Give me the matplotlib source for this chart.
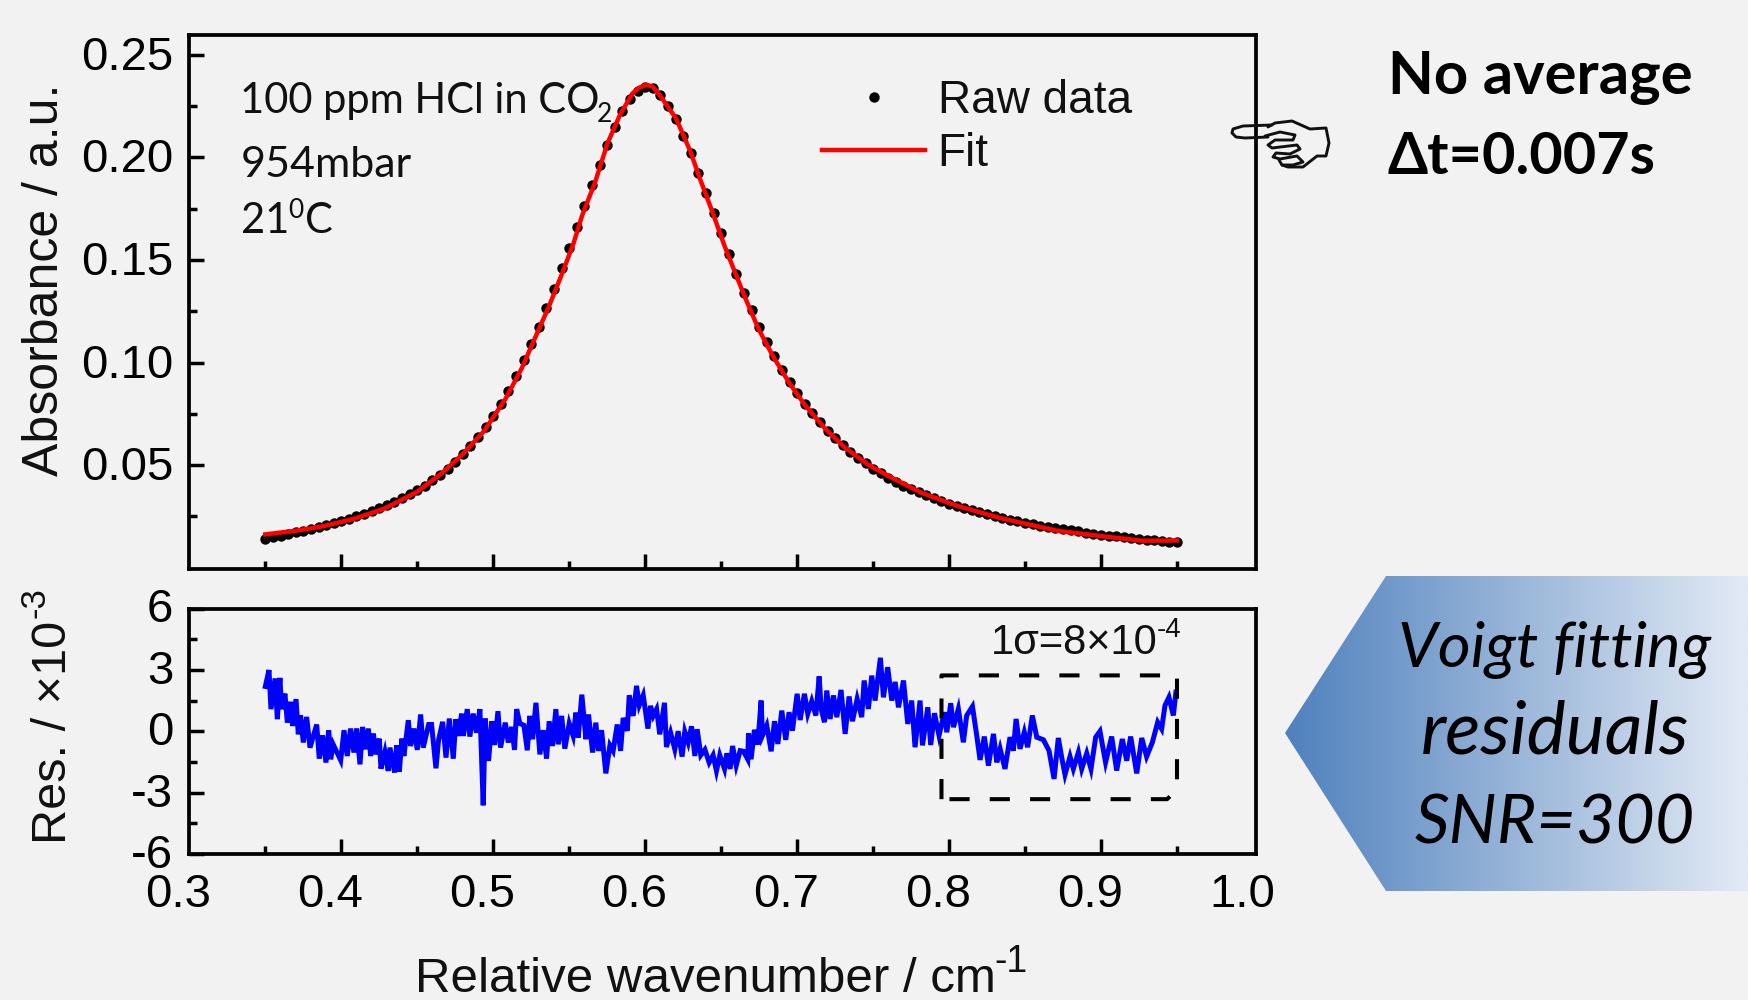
import matplotlib
matplotlib.use("Agg")
import matplotlib.pyplot as plt
from matplotlib.colors import LinearSegmentedColormap
from matplotlib.lines import Line2D
from matplotlib.patches import Polygon
from matplotlib.transforms import ScaledTranslation
import numpy as np

W, H = 1748, 1000
BG = "#f2f2f2"
ARIAL = "Liberation Sans"
CALIBRI = ["Lato", "DejaVu Sans"]

raw_x = [
    0.350, 0.355, 0.360, 0.365, 0.370, 0.375, 0.380, 0.385, 0.390, 0.395, 0.400,
    0.405, 0.410, 0.415, 0.420, 0.425, 0.430, 0.435, 0.440, 0.445, 0.450,
    0.455, 0.460, 0.465, 0.470, 0.475, 0.480, 0.485, 0.490, 0.495, 0.500,
    0.505, 0.510, 0.515, 0.520, 0.525, 0.530, 0.535, 0.540, 0.545, 0.550,
    0.555, 0.560, 0.565, 0.570, 0.575, 0.580, 0.585, 0.590, 0.595, 0.600,
    0.605, 0.610, 0.615, 0.620, 0.625, 0.630, 0.635, 0.640, 0.645, 0.650,
    0.655, 0.660, 0.665, 0.670, 0.675, 0.680, 0.685, 0.690, 0.695, 0.700,
    0.705, 0.710, 0.715, 0.720, 0.725, 0.730, 0.735, 0.740, 0.745, 0.750,
    0.755, 0.760, 0.765, 0.770, 0.775, 0.780, 0.785, 0.790, 0.795, 0.800,
    0.805, 0.810, 0.815, 0.820, 0.825, 0.830, 0.835, 0.840, 0.845, 0.850,
    0.855, 0.860, 0.865, 0.870, 0.875, 0.880, 0.885, 0.890, 0.895, 0.900,
    0.905, 0.910, 0.915, 0.920, 0.925, 0.930, 0.935, 0.940, 0.945, 0.950,
]
raw_y = [
    0.0140, 0.0148, 0.0156, 0.0164, 0.0172, 0.0180, 0.0189, 0.0198, 0.0208, 0.0218, 0.0228,
    0.0239, 0.0250, 0.0262, 0.0275, 0.0289, 0.0304, 0.0320, 0.0338, 0.0357, 0.0378,
    0.0400, 0.0425, 0.0452, 0.0482, 0.0515, 0.0552, 0.0592, 0.0636, 0.0685, 0.0738,
    0.0797, 0.0862, 0.0933, 0.1010, 0.1090, 0.1175, 0.1265, 0.1360, 0.1460, 0.1560,
    0.1660, 0.1765, 0.1865, 0.1965, 0.2060, 0.2150, 0.2225, 0.2285, 0.2325, 0.2345,
    0.2340, 0.2305, 0.2250, 0.2185, 0.2105, 0.2020, 0.1925, 0.1825, 0.1730, 0.1630,
    0.1530, 0.1430, 0.1340, 0.1255, 0.1175, 0.1100, 0.1030, 0.0965, 0.0905, 0.0850,
    0.0800, 0.0752, 0.0708, 0.0668, 0.0630, 0.0596, 0.0565, 0.0535, 0.0508, 0.0483,
    0.0460, 0.0438, 0.0418, 0.0400, 0.0383, 0.0367, 0.0352, 0.0338, 0.0325, 0.0312,
    0.0300, 0.0289, 0.0279, 0.0269, 0.0259, 0.0250, 0.0241, 0.0233, 0.0226, 0.0219,
    0.0212, 0.0205, 0.0199, 0.0193, 0.0187, 0.0181, 0.0176, 0.0171, 0.0166, 0.0161,
    0.0156, 0.0152, 0.0148, 0.0144, 0.0140, 0.0136, 0.0133, 0.0130, 0.0127, 0.0124,
]

fit_x = [
    0.350, 0.3695, 0.3883, 0.4094, 0.4282, 0.4494, 0.4658, 0.4799, 0.4940, 0.5081,
    0.5187, 0.5269, 0.5363, 0.5457, 0.5528, 0.5586, 0.5669, 0.5751, 0.5833, 0.5915,
    0.5960, 0.6009, 0.6050, 0.6098, 0.6204, 0.6296, 0.6362, 0.6441, 0.6521, 0.6600,
    0.6666, 0.6745, 0.6838, 0.6944, 0.7049, 0.7181, 0.7314, 0.7472, 0.7605, 0.7817,
    0.8054, 0.8345, 0.8715, 0.9006, 0.9270, 0.9500,
]
fit_y = [
    0.0162, 0.0179, 0.0202, 0.0240, 0.0287, 0.0367, 0.0458, 0.0553, 0.0666, 0.0823,
    0.0971, 0.1110, 0.1267, 0.1441, 0.1580, 0.1719, 0.1876, 0.2067, 0.2206, 0.2311,
    0.2340, 0.2354, 0.2345, 0.2302, 0.2189, 0.2032, 0.1893, 0.1737, 0.1571, 0.1423,
    0.1302, 0.1165, 0.1035, 0.0905, 0.0795, 0.0680, 0.0585, 0.0500, 0.0445, 0.0365,
    0.0301, 0.0240, 0.0179, 0.0153, 0.0131, 0.0132,
]

res_x = [
    0.3500, 0.3524, 0.3537, 0.3564, 0.3579, 0.3596, 0.3607, 0.3629, 0.3645, 0.3667,
    0.3680, 0.3702, 0.3717, 0.3732, 0.3750, 0.3772, 0.3794, 0.3838, 0.3855, 0.3877,
    0.3899, 0.3917, 0.3930, 0.3947, 0.3996, 0.4018, 0.4039, 0.4061, 0.4083, 0.4101,
    0.4123, 0.4140, 0.4156, 0.4178, 0.4193, 0.4211, 0.4228, 0.4250, 0.4261, 0.4287,
    0.4309, 0.4320, 0.4351, 0.4364, 0.4382, 0.4399, 0.4412, 0.4441, 0.4456, 0.4478,
    0.4500, 0.4522, 0.4539, 0.4575, 0.4594, 0.4623, 0.4640, 0.4667, 0.4689, 0.4711,
    0.4737, 0.4754, 0.4770, 0.4792, 0.4803, 0.4829, 0.4846, 0.4868, 0.4890, 0.4912,
    0.4934, 0.4947, 0.4969, 0.4991, 0.5009, 0.5031, 0.5048, 0.5079, 0.5099, 0.5121,
    0.5140, 0.5154, 0.5175, 0.5202, 0.5224, 0.5241, 0.5259, 0.5281, 0.5307, 0.5329,
    0.5351, 0.5368, 0.5390, 0.5412, 0.5428, 0.5450, 0.5471, 0.5500, 0.5526, 0.5544,
    0.5559, 0.5583, 0.5610, 0.5627, 0.5654, 0.5675, 0.5693, 0.5713, 0.5741, 0.5768,
    0.5789, 0.5816, 0.5838, 0.5855, 0.5882, 0.5895, 0.5921, 0.5943, 0.5961, 0.5987,
    0.6018, 0.6035, 0.6053, 0.6075, 0.6096, 0.6127, 0.6140, 0.6167, 0.6195, 0.6217,
    0.6243, 0.6261, 0.6283, 0.6305, 0.6327, 0.6342, 0.6366, 0.6393, 0.6421, 0.6447,
    0.6469, 0.6491, 0.6522, 0.6537, 0.6559, 0.6575, 0.6599, 0.6625, 0.6647, 0.6675,
    0.6680, 0.6697, 0.6719, 0.6741, 0.6763, 0.6772, 0.6800, 0.6829, 0.6851, 0.6873,
    0.6899, 0.6925, 0.6947, 0.6969, 0.7000, 0.7020, 0.7048, 0.7070, 0.7096, 0.7123,
    0.7145, 0.7158, 0.7180, 0.7195, 0.7217, 0.7239, 0.7261, 0.7289, 0.7316, 0.7342,
    0.7364, 0.7395, 0.7425, 0.7441, 0.7469, 0.7491, 0.7513, 0.7548, 0.7568, 0.7596,
    0.7623, 0.7645, 0.7667, 0.7700, 0.7728, 0.7754, 0.7776, 0.7809, 0.7825, 0.7860,
    0.7879, 0.7904, 0.7934, 0.7969, 0.7985, 0.8011, 0.8029, 0.8061, 0.8094, 0.8116,
    0.8154, 0.8182, 0.8204, 0.8232, 0.8259, 0.8292, 0.8314, 0.8336, 0.8368, 0.8401,
    0.8423, 0.8441, 0.8467, 0.8495, 0.8517, 0.8548, 0.8577, 0.8621, 0.8658, 0.8691,
    0.8719, 0.8741, 0.8763, 0.8796, 0.8818, 0.8851, 0.8873, 0.8906, 0.8934, 0.8965,
    0.8993, 0.9030, 0.9070, 0.9103, 0.9140, 0.9169, 0.9195, 0.9235, 0.9268, 0.9300,
    0.9338, 0.9373, 0.9399, 0.9421, 0.9447, 0.9476, 0.9493,
]
res_y = [
    2.19, 2.99, 1.08, 2.58, 0.59, 2.61, 1.08, 1.84, 0.42, 1.44,
    0.26, 1.57, -0.15, 0.78, -0.55, 0.70, -0.80, 0.33, -1.34, -0.20,
    -1.53, 0.05, -1.37, -0.65, -1.42, 0.05, -1.21, 0.13, -1.04, 0.13,
    -1.62, 0.21, -0.88, 0.13, -1.21, -0.11, -1.13, -0.36, -1.83, -1.01,
    -1.94, -0.80, -2.02, -0.69, -1.97, -0.36, -1.21, 0.54, -0.72, 0.13,
    -0.91, 0.82, -0.80, 0.33, 0.33, -1.81, -0.44, 0.46, -1.29, 0.62,
    -1.34, 0.59, -0.23, 0.86, -0.23, 1.08, -0.26, 0.86, -0.07, 1.08,
    -3.62, 0.62, -1.45, 0.49, -0.67, 0.98, -0.80, 0.42, -0.55, 0.21,
    -0.91, 1.08, 0.38, 0.29, -0.93, 0.75, -0.39, 1.39, -1.13, 0.05,
    -1.34, 0.49, -0.72, 1.08, -0.64, 0.75, -0.85, 0.38, -0.23, 0.91,
    -0.31, 1.79, -0.39, 0.82, -1.04, 0.42, -0.96, 0.05, -2.06, -0.69,
    -0.96, 0.33, -0.96, 0.65, 0.02, 1.76, 0.75, 2.22, 1.27, 1.76,
    0.13, 1.24, 0.75, 1.08, -0.15, 1.39, -0.77, -0.07, -0.88, 0.00,
    -1.24, -0.03, -0.55, 0.24, -1.21, 0.10, -1.17, -0.90, -1.53, -1.17,
    -1.94, -1.17, -1.84, -1.08, -1.84, -0.72, -1.68, -0.95, -0.98, -1.37,
    -0.10, -1.37, 0.07, -0.65, 1.50, -0.21, 0.28, -0.98, 0.49, -0.62,
    1.01, -0.42, 0.93, 0.03, 1.83, 0.55, 1.83, 0.85, 1.47, 0.77,
    2.68, 1.09, 0.44, 1.99, 0.60, 1.75, 0.69, 2.02, -0.13, 1.70,
    0.49, 1.58, 0.69, 2.48, 1.09, 2.72, 1.50, 3.59, 1.66, 3.13,
    1.50, 2.41, 1.17, 2.48, 0.36, 1.50, -0.78, 1.50, -0.69, 1.17,
    -0.67, 0.88, -0.21, 0.93, -0.05, 1.37, 0.20, 1.09, -0.54, 0.77,
    1.21, -0.21, -1.40, -0.26, -1.68, -0.13, -1.52, -0.86, -1.84, -0.29,
    -0.95, 0.60, -0.86, -0.05, -0.78, 0.77, -0.29, -0.42, -0.95, -2.33,
    -0.33, -1.27, -2.12, -1.24, -1.84, -1.03, -1.84, -1.08, -1.84, -0.29,
    0.00, -1.52, -0.26, -1.92, -0.38, -1.44, -0.26, -2.06, -0.33, -1.24,
    -0.54, 0.44, 0.11, 1.26, 1.66, 0.77, 1.91,
]

box_x = [0.795, 0.795, 0.950, 0.950, 0.9435, 0.795]
box_y = [-3.32, 2.73, 2.73, -2.85, -3.32, -3.32]

abs_ticks = [0.05, 0.10, 0.15, 0.20, 0.25]
abs_labels = ["0.05", "0.10", "0.15", "0.20", "0.25"]
res_ticks = [-6, -3, 0, 3, 6]
res_labels = ["-6", "-3", "0", "3", "6"]
x_ticks = [0.3, 0.4, 0.5, 0.6, 0.7, 0.8, 0.9, 1.0]
x_labels = ["0.3", "0.4", "0.5", "0.6", "0.7", "0.8", "0.9", "1.0"]
x_minor = [0.35, 0.45, 0.55, 0.65, 0.75, 0.85, 0.95]
abs_minor = [0.025, 0.075, 0.125, 0.175, 0.225]
res_minor = [-4.5, -1.5, 1.5, 4.5]

# outline of the pointing hand, in picture pixels
hand_finger = [(1272, 125), (1243, 126), (1233, 129), (1232, 133), (1236, 137), (1245, 138), (1268, 137)]
hand_back = [(1268, 127), (1275, 123), (1292, 121), (1310, 129), (1326, 128), (1329, 143), (1326, 156),
             (1317, 156), (1303, 167), (1288, 167), (1282, 165), (1279, 160)]
hand_curl = [(1265, 136), (1280, 132), (1295, 135), (1293, 140), (1275, 140), (1268, 145), (1272, 148),
             (1297, 145), (1300, 149), (1290, 154), (1276, 153), (1273, 157), (1280, 159), (1297, 156),
             (1303, 162), (1293, 165), (1282, 165)]


def txt(x, y, s, size, family=ARIAL, **kw):
    return fig.text(x / W, 1 - y / H, s, fontsize=size, family=family,
                    va=kw.pop("va", "baseline"), color=kw.pop("color", "#111111"), **kw)


def outline(points):
    xs = [p[0] / W for p in points]
    ys = [1 - p[1] / H for p in points]
    fig.add_artist(Line2D(xs, ys, transform=fig.transFigure, color="#111111", lw=2.1,
                          solid_joinstyle="round", solid_capstyle="round", zorder=5))


def style_axes(ax):
    ax.set_facecolor(BG)
    for spine in ax.spines.values():
        spine.set_linewidth(2.7)
    ax.set_xlim(0.2995, 1.002)
    ax.set_xticks(x_ticks)
    ax.set_xticks(x_minor, minor=True)
    ax.tick_params(which="major", direction="in", length=10.8, width=2.5, pad=11,
                   labelsize=34, top=False, right=False)
    ax.tick_params(which="minor", direction="in", length=5.8, width=2.5, top=False, right=False)
    for i in (0, -1):
        ax.xaxis.get_major_ticks()[i].tick1line.set_visible(False)


fig = plt.figure(figsize=(W / 100, H / 100), dpi=100, facecolor=BG)
plt.rcParams["font.family"] = ARIAL

# gradient arrow behind the text
back = fig.add_axes([0, 0, 1, 1], zorder=-1)
back.axis("off")
cmap = LinearSegmentedColormap.from_list("arrow", ["#4f81bd", "#e3eaf5"])
img = back.imshow(np.linspace(0, 1, 256).reshape(1, -1), cmap=cmap, aspect="auto",
                  extent=(1285, 1748, 891, 576))
back.set_xlim(0, W)
back.set_ylim(H, 0)
arrow = Polygon([(1285, 733), (1386, 576), (1748, 576), (1748, 891), (1386, 891)],
                transform=back.transData, fc="none", ec="none")
back.add_patch(arrow)
img.set_clip_path(arrow)

ax1 = fig.add_axes([188.6 / W, 1 - 568.6 / H, (1256 - 188.6) / W, (568.6 - 35) / H])
ax2 = fig.add_axes([188.6 / W, 1 - 854 / H, (1256 - 188.6) / W, (854 - 608.5) / H])
style_axes(ax1)
style_axes(ax2)

ax1.plot(raw_x, raw_y, "o", color="black", ms=7.5, mew=0, label="Raw data")
ax1.plot(fit_x, fit_y, color="#ff0000", lw=3.2, label="Fit")
ax1.set_ylim(-0.0005, 0.2597)
ax1.set_yticks(abs_ticks, abs_labels)
ax1.set_yticks(abs_minor, minor=True)
ax1.tick_params(axis="x", labelbottom=False)
ax1.legend(loc="upper left", bbox_to_anchor=(822 / W, 1 - 79 / H), bbox_transform=fig.transFigure,
           frameon=False, fontsize=33, borderpad=0, borderaxespad=0, handlelength=2.25,
           handletextpad=0.27, labelspacing=0.2, markerscale=1.0, labelcolor="#111111")

ax2.plot(res_x, res_y, color="#0000ff", lw=3.6, solid_joinstyle="miter")
ax2.plot(box_x, box_y, color="black", lw=2.9, linestyle=(0, (5, 5)), dash_capstyle="butt")
ax2.set_ylim(-6, 6)
ax2.set_yticks(res_ticks, res_labels)
ax2.set_yticks(res_minor, minor=True)
ax2.set_xticklabels(x_labels)
ax2.tick_params(axis="x", which="major", pad=14)
shift = ScaledTranslation(-11 / 100, 0, fig.dpi_scale_trans)
for label in ax2.get_xticklabels():
    label.set_transform(label.get_transform() + shift)
for label in ax1.get_yticklabels():
    label.set_transform(label.get_transform() + ScaledTranslation(0, 2 / 100, fig.dpi_scale_trans))
for label in ax2.get_yticklabels():
    label.set_transform(label.get_transform() + ScaledTranslation(0, 3 / 100, fig.dpi_scale_trans))

# axis titles
txt(45, 280, "Absorbance / a.u.", 36, rotation=90, ha="center", va="center")
txt(76, 844, "Res. / ×10", 35, rotation=90, ha="left", va="bottom", rotation_mode="anchor")
txt(415, 992, "Relative wavenumber / cm", 35.5)
txt(994, 972, "-1", 27)
txt(52, 618, "-3", 25, rotation=90, ha="left", va="bottom", rotation_mode="anchor")

# notes inside the axes
txt(240, 113, "100 ppm HCl in CO", 30, family=CALIBRI)
txt(597, 122, "2", 19, family=CALIBRI)
txt(241, 177, "954mbar", 31, family=CALIBRI)
txt(241, 233, "21", 30, family=CALIBRI)
txt(288, 218, "0", 19, family=CALIBRI)
txt(305, 233, "C", 30, family=CALIBRI)
txt(991, 654, "1σ=8×10", 30)
txt(1157, 637, "-4", 20)

# right hand side
txt(1388, 94, "No average", 43, family=CALIBRI, fontweight="bold", color="black")
txt(1387, 174, "Δt=0.007s", 41.5, family=CALIBRI, fontweight="bold", color="black")
outline(hand_finger)
outline(hand_back)
outline(hand_curl)
txt(1555, 667, "Voigt fitting", 45.5, family=CALIBRI, style="italic", ha="center", color="black")
txt(1555, 754, "residuals", 53, family=CALIBRI, style="italic", ha="center", color="black")
txt(1555, 844, "SNR=300", 49, family=CALIBRI, style="italic", ha="center", color="black")

fig.savefig("out.png", dpi=100, facecolor=BG)
